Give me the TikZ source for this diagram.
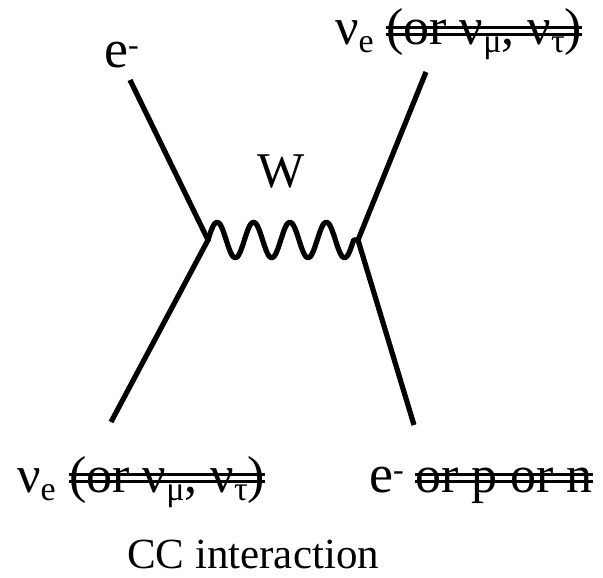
\documentclass[tikz,border=0pt]{standalone}
\usepackage{fontspec}
\setmainfont{Liberation Serif}
\newcommand\sbsc[1]{\raisebox{-8pt}{\fontsize{34}{34}\selectfont #1}}
\newcommand\spmin{\raisebox{12pt}{\fontsize{32}{32}\selectfont -}}
\begin{document}
\begin{tikzpicture}[x=1pt,y=-1pt,
  lbl/.style={inner sep=0pt, anchor=base west, font=\fontsize{52}{60}\selectfont},
  fermion/.style={line width=5.2pt, line join=miter},
  boson/.style={line width=5.2pt, line join=round},
  strike/.style={line width=2.5pt}]
\useasboundingbox (0,0) rectangle (603,578);
\coordinate (A) at (130,80);
\coordinate (L) at (208,240);
\coordinate (B) at (111,422);
\coordinate (C) at (426,72);
\coordinate (R) at (358,240);
\coordinate (D) at (414,425);
\draw[fermion] (A) -- (L) -- (B);
\draw[fermion] (C) -- (R) -- (D);
\def\q{9.1}
\draw[boson] (L)
  sin ++(\q,-18) cos ++(\q,18) sin ++(\q,18) cos ++(\q,-18)
  sin ++(\q,-18) cos ++(\q,18) sin ++(\q,18) cos ++(\q,-18)
  sin ++(\q,-18) cos ++(\q,18) sin ++(\q,18) cos ++(\q,-18)
  sin ++(\q,-18) cos ++(\q,18) sin ++(\q,18) cos ++(\q,-18) -- (R);
\node[lbl, font=\fontsize{54}{60}\selectfont] (e1) at (104,68) {e\spmin};
\node[lbl] (nu1) at (335,45) {ν\sbsc{e}};
\node[lbl] (s1) at (386,45) {(or ν\sbsc{μ}, ν\sbsc{τ})};
\draw[strike] ([yshift=17.5pt]s1.base west) -- ([yshift=17.5pt]s1.base east);
\draw[strike] ([yshift=10.5pt]s1.base west) -- ([yshift=10.5pt]s1.base east);
\node[lbl] (nu2) at (17,492) {ν\sbsc{e}};
\node[lbl] (s2) at (69,492) {(or ν\sbsc{μ}, ν\sbsc{τ})};
\draw[strike] ([yshift=17.5pt]s2.base west) -- ([yshift=17.5pt]s2.base east);
\draw[strike] ([yshift=10.5pt]s2.base west) -- ([yshift=10.5pt]s2.base east);
\node[lbl, font=\fontsize{54}{60}\selectfont] (e2) at (369,492) {e\spmin};
\node[lbl] (s3) at (415,492) {or p or n};
\draw[strike] ([yshift=17.5pt]s3.base west) -- ([yshift=17.5pt]s3.base east);
\draw[strike] ([yshift=10.5pt]s3.base west) -- ([yshift=10.5pt]s3.base east);
\node[inner sep=0pt, anchor=base, font=\fontsize{50}{56}\selectfont] (W) at (281,187) {W};
\node[inner sep=0pt, anchor=base, font=\fontsize{43}{50}\selectfont] (cc) at (253,568) {CC interaction};
\end{tikzpicture}
\end{document}
